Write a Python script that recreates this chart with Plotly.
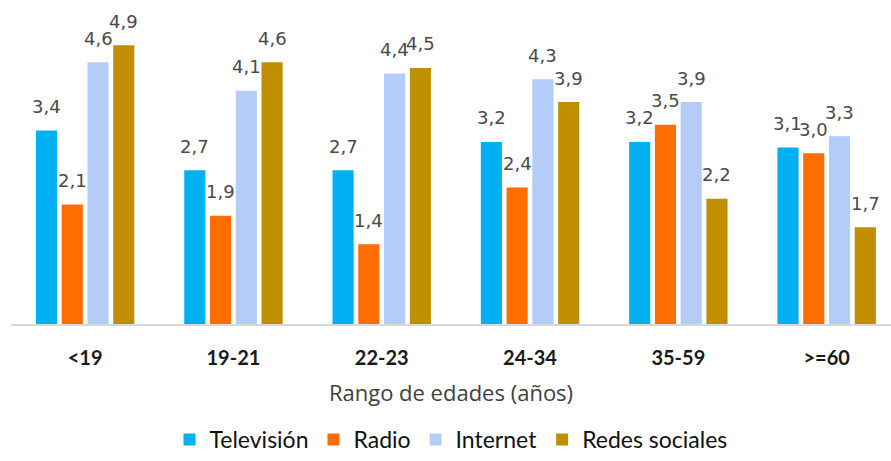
import plotly.graph_objects as go

# Age ranges and the four media series (scores)
categorias = ["<19", "19-21", "22-23", "24-34", "35-59", ">=60"]
television = [3.4, 2.7, 2.7, 3.2, 3.2, 3.1]
radio = [2.1, 1.9, 1.4, 2.4, 3.5, 3.0]
internet = [4.6, 4.1, 4.4, 4.3, 3.9, 3.3]
redes_sociales = [4.9, 4.6, 4.5, 3.9, 2.2, 1.7]

series = [
    ("Televisión", television, "#00B0F0"),
    ("Radio", radio, "#FF6D00"),
    ("Internet", internet, "#B4CCF8"),
    ("Redes sociales", redes_sociales, "#BF8F00"),
]

BARGAP = 0.305
BARGROUPGAP = 0.18

fig = go.Figure()
n = len(series)
grupo = 1.0 - BARGAP
ranura = grupo / n
anotaciones = []
for j, (nombre, valores, color) in enumerate(series):
    fig.add_trace(go.Bar(
        x=categorias,
        y=valores,
        name=nombre,
        marker=dict(color=color, line=dict(width=0)),
        cliponaxis=False,
    ))
    # value labels, centred over each bar of the group
    desplaz = -grupo / 2 + ranura * (j + 0.5)
    for i, v in enumerate(valores):
        anotaciones.append(dict(
            x=i + desplaz,
            y=v,
            xref="x",
            yref="y",
            text=f"{v:.1f}".replace(".", ","),
            showarrow=False,
            yanchor="middle",
            yshift=24,
            font=dict(family="DejaVu Sans", size=18, color="#4a4a4a"),
        ))

fig.update_layout(
    width=891,
    height=461,
    margin=dict(l=11, r=0, t=11, b=135),
    paper_bgcolor="white",
    plot_bgcolor="white",
    separators=",.",
    barmode="group",
    bargap=BARGAP,
    bargroupgap=BARGROUPGAP,
    annotations=anotaciones,
    showlegend=True,
    legend=dict(
        orientation="h",
        x=0.5,
        xanchor="center",
        y=-0.37,
        yanchor="middle",
        font=dict(family="Lato", size=23, color="#111111"),
        itemwidth=30,
        tracegroupgap=0,
    ),
    xaxis=dict(
        type="category",
        range=[-0.5, 5.434],
        showline=True,
        linecolor="#D9D9D9",
        linewidth=1.5,
        ticks="",
        showgrid=False,
        ticklabelstandoff=15,
        tickfont=dict(family="Lato", size=20, color="#1a1a1a", weight="bold"),
        title=dict(
            text="Rango de edades (años)",
            font=dict(family="Open Sans", size=22, color="#404040"),
            standoff=18,
        ),
    ),
    yaxis=dict(
        range=[0, 5.5],
        visible=False,
        showgrid=False,
        zeroline=False,
    ),
)

fig.write_html("out.html")
